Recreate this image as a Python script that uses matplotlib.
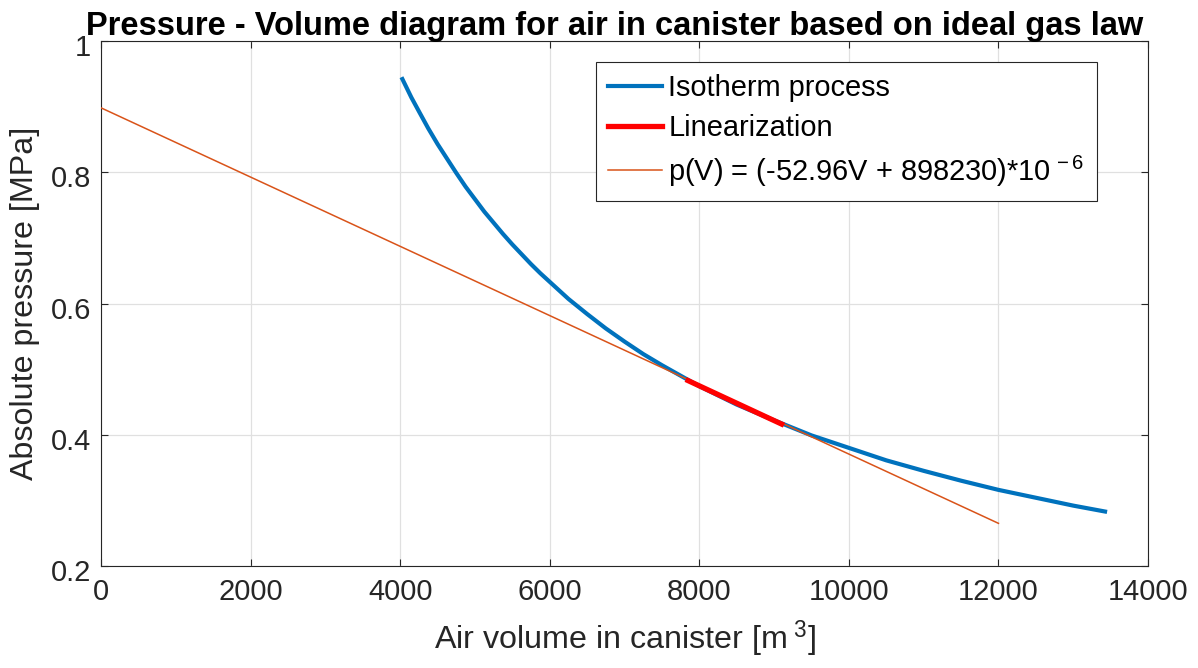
import matplotlib.pyplot as plt
from matplotlib.transforms import ScaledTranslation

plt.rcParams['font.family'] = ['Liberation Sans', 'DejaVu Sans']
plt.rcParams['mathtext.fontset'] = 'custom'
plt.rcParams['mathtext.rm'] = 'Liberation Sans'
plt.rcParams['mathtext.it'] = 'Liberation Sans'

# isotherm process
vol_iso = [4030, 4150, 4250, 4375, 4500, 4625, 4750, 4875, 5000, 5125, 5250, 5375,
           5500, 5625, 5750, 5875, 6000, 6250, 6500, 6750, 7000, 7250, 7500, 7750,
           8000, 8500, 9000, 9500, 10000, 10500, 11000, 11500, 12000, 12500, 13000, 13425]
p_iso = [0.942, 0.914, 0.893, 0.867, 0.843, 0.821, 0.799, 0.778, 0.759, 0.740, 0.723, 0.706,
         0.690, 0.675, 0.660, 0.646, 0.633, 0.607, 0.584, 0.562, 0.542, 0.523, 0.506, 0.490,
         0.474, 0.446, 0.422, 0.399, 0.380, 0.361, 0.345, 0.330, 0.316, 0.304, 0.292, 0.283]

# linearization segment
vol_lin = [7850, 9100]
p_lin = [0.4825, 0.4163]

# fitted line
vol_fit = [0, 12000]
p_fit = [0.8982, 0.2650]

xticks = [0, 2000, 4000, 6000, 8000, 10000, 12000, 14000]
yticks = [0.2, 0.4, 0.6, 0.8, 1.0]
ytick_labels = ['0.2', '0.4', '0.6', '0.8', '1']

fig = plt.figure(figsize=(11.98, 6.68), dpi=100)
ax = fig.add_axes([0.0843, 0.1527, 0.8740, 0.7859])

ax.plot(vol_iso, p_iso, color='#0072BD', lw=3.0, label='Isotherm process', zorder=3)
ax.plot(vol_lin, p_lin, color='#FF0000', lw=3.8, label='Linearization', zorder=4)
ax.plot(vol_fit, p_fit, color='#D95319', lw=1.1,
        label=r'p(V) = (-52.96V + 898230)*10$^{\,-6}$', zorder=3)

ax.set_xlim(0, 14000)
ax.set_ylim(0.2, 1.0)
ax.set_xticks(xticks)
ax.set_xticklabels([str(t) for t in xticks])
ax.set_yticks(yticks)
ax.set_yticklabels(ytick_labels)

ax.grid(True, color='#e0e0e0', lw=0.9)
ax.set_axisbelow(True)
for s in ax.spines.values():
    s.set_color('#262626')
    s.set_linewidth(0.8)
ax.tick_params(direction='in', length=5, width=0.8, colors='#262626',
               labelsize=21, top=True, right=True)
ax.tick_params(axis='x', pad=9)
ax.tick_params(axis='y', pad=7)
# MATLAB puts the y labels a little below the tick
for lab in ax.get_yticklabels():
    lab.set_transform(lab.get_transform() + ScaledTranslation(0, -4 / 100, fig.dpi_scale_trans))

ax.set_xlabel(r'Air volume in canister [m$^{\ 3}$]', fontsize=23.2, color='#262626', labelpad=9)
ax.set_ylabel('Absolute pressure [MPa]', fontsize=23.2, color='#262626', labelpad=8)
ax.set_title('Pressure - Volume diagram for air in canister based on ideal gas law',
             fontsize=23.5, fontweight='bold', pad=4, x=0.491)

leg = ax.legend(loc='upper right', bbox_to_anchor=(0.951, 0.96), fontsize=20.9,
                fancybox=False, framealpha=1, edgecolor='#262626',
                handlelength=1.85, handletextpad=0.22, borderpad=0.42, labelspacing=0.4,
                borderaxespad=0)
leg.get_frame().set_linewidth(0.8)

fig.savefig('out.png', dpi=100)
